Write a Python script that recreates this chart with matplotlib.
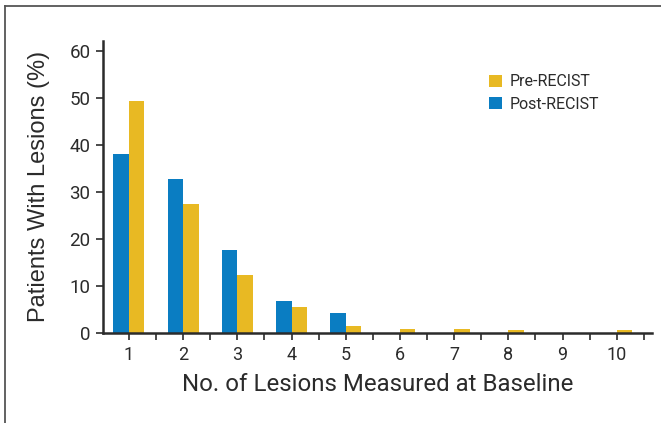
import matplotlib
matplotlib.use("Agg")
import matplotlib.pyplot as plt
import numpy as np
from matplotlib.lines import Line2D
from matplotlib.patches import Patch

categories = [1, 2, 3, 4, 5, 6, 7, 8, 9, 10]
post_recist = [38.0, 32.8, 17.6, 6.9, 4.3, 0, 0, 0, 0, 0]
pre_recist = [49.3, 27.5, 12.4, 5.6, 1.5, 0.9, 0.9, 0.7, 0, 0.7]
series_names = ["Pre-RECIST", "Post-RECIST"]
y_ticks = [0, 10, 20, 30, 40, 50, 60]

BLUE = "#0a7dc2"
YELLOW = "#e8b923"
DARK = "#2b2b2b"
NARROW = ["Roboto", "DejaVu Sans"]
REG = ["Liberation Sans", "DejaVu Sans"]

fig = plt.figure(figsize=(6.61, 4.23), dpi=100)
ax = fig.add_axes([103/661, 1-333/423, (652-103)/661, (333-40.7)/423])

x = np.array(categories, dtype=float)
w = 0.286
ax.bar(x - w/2, post_recist, width=w, color=BLUE, linewidth=0, zorder=2)
ax.bar(x + w/2, pre_recist, width=w, color=YELLOW, linewidth=0, zorder=2)

ax.set_xlim(0.522, 10.65)
ax.set_ylim(0, 62.2)
ax.set_yticks(y_ticks)
ax.set_yticklabels([str(t) for t in y_ticks], family=NARROW, fontsize=13.5, color=DARK)
ax.set_xticks(categories)
ax.set_xticklabels([str(c) for c in categories], family=NARROW, fontsize=13, color=DARK)
ax.set_xticks(np.array(categories) + 0.5, minor=True)
ax.tick_params(axis="both", which="both", direction="out", length=5, width=1.2, color=DARK)
ax.tick_params(axis="y", pad=4)
ax.tick_params(axis="x", which="major", pad=4)

for s in ["top", "right"]:
    ax.spines[s].set_visible(False)
for s in ["left", "bottom"]:
    ax.spines[s].set_linewidth(1.8)
    ax.spines[s].set_color(DARK)

ax.set_xlabel("No. of Lesions Measured at Baseline", family=NARROW, fontsize=17.3, color=DARK, labelpad=7)
ax.set_ylabel("Patients With Lesions (%)", family=REG, fontsize=17, color=DARK, labelpad=14)

handles = [Patch(facecolor=YELLOW, edgecolor="none"), Patch(facecolor=BLUE, edgecolor="none")]
leg = ax.legend(handles, series_names, loc="upper left", bbox_to_anchor=(0.703, 0.885),
                frameon=False, prop={"family": NARROW, "size": 11.5},
                handlelength=0.8, handleheight=0.8, handletextpad=0.5, labelspacing=0.45,
                borderpad=0, borderaxespad=0)
for t in leg.get_texts():
    t.set_color(DARK)

# frame lines (top and left) of the figure
fig.add_artist(Line2D([5/661, 1.0], [1-6.5/423, 1-6.5/423], transform=fig.transFigure, color="#555555", linewidth=1.3))
fig.add_artist(Line2D([5/661, 5/661], [0, 1-6.5/423], transform=fig.transFigure, color="#555555", linewidth=1.3))

fig.savefig("out.png", dpi=100)
